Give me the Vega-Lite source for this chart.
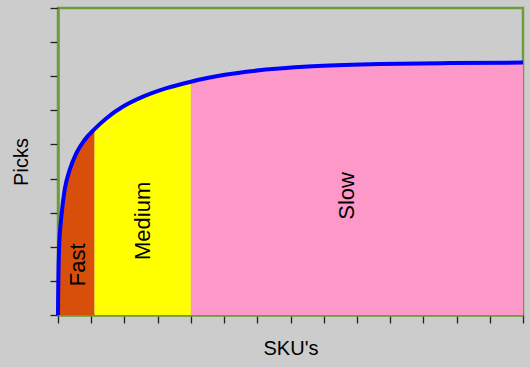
{
  "$schema": "https://vega.github.io/schema/vega-lite/v6.json",
  "width": 465,
  "height": 307,
  "autosize": {"type": "none"},
  "padding": {"left": 58, "top": 8, "right": 7, "bottom": 52},
  "background": "#cccccc",
  "config": {
    "view": {"stroke": "#6e9b3b", "strokeWidth": 2.5, "fill": "#cccccc"},
    "font": "Liberation Sans",
    "axis": {
      "grid": false,
      "labels": false,
      "domain": true,
      "domainColor": "#6e9b3b",
      "domainWidth": 2.5,
      "tickColor": "#222222",
      "tickSize": 8,
      "tickWidth": 1.3,
      "titleFont": "Liberation Sans",
      "titleFontWeight": "normal",
      "titleFontSize": 20,
      "titleColor": "#000000",
      "zindex": 1
    }
  },
  "datasets": {
    "zones": [
      {"sku": 0, "picks": 0, "zone": "Fast"},
      {"sku": 0.005, "picks": 0.6, "zone": "Fast"},
      {"sku": 0.015, "picks": 1.3, "zone": "Fast"},
      {"sku": 0.03, "picks": 1.9, "zone": "Fast"},
      {"sku": 0.06, "picks": 2.45, "zone": "Fast"},
      {"sku": 0.1, "picks": 2.88, "zone": "Fast"},
      {"sku": 0.2, "picks": 3.67, "zone": "Fast"},
      {"sku": 0.35, "picks": 4.25, "zone": "Fast"},
      {"sku": 0.55, "picks": 4.74, "zone": "Fast"},
      {"sku": 0.8, "picks": 5.13, "zone": "Fast"},
      {"sku": 1.1, "picks": 5.45, "zone": "Fast"},
      {"sku": 1.1, "picks": 5.45, "zone": "Medium"},
      {"sku": 1.46, "picks": 5.77, "zone": "Medium"},
      {"sku": 1.96, "picks": 6.11, "zone": "Medium"},
      {"sku": 2.56, "picks": 6.4, "zone": "Medium"},
      {"sku": 3.27, "picks": 6.65, "zone": "Medium"},
      {"sku": 4.0, "picks": 6.84, "zone": "Medium"},
      {"sku": 4.0, "picks": 6.84, "zone": "Slow"},
      {"sku": 4.57, "picks": 6.96, "zone": "Slow"},
      {"sku": 5.67, "picks": 7.13, "zone": "Slow"},
      {"sku": 7.67, "picks": 7.29, "zone": "Slow"},
      {"sku": 9.69, "picks": 7.355, "zone": "Slow"},
      {"sku": 11.8, "picks": 7.385, "zone": "Slow"},
      {"sku": 14, "picks": 7.4, "zone": "Slow"}
    ],
    "curve": [
      {"sku": 0, "picks": 0},
      {"sku": 0.005, "picks": 0.6},
      {"sku": 0.015, "picks": 1.3},
      {"sku": 0.03, "picks": 1.9},
      {"sku": 0.06, "picks": 2.45},
      {"sku": 0.1, "picks": 2.88},
      {"sku": 0.2, "picks": 3.67},
      {"sku": 0.35, "picks": 4.25},
      {"sku": 0.55, "picks": 4.74},
      {"sku": 0.8, "picks": 5.13},
      {"sku": 1.1, "picks": 5.45},
      {"sku": 1.46, "picks": 5.77},
      {"sku": 1.96, "picks": 6.11},
      {"sku": 2.56, "picks": 6.4},
      {"sku": 3.27, "picks": 6.65},
      {"sku": 4.0, "picks": 6.84},
      {"sku": 4.57, "picks": 6.96},
      {"sku": 5.67, "picks": 7.13},
      {"sku": 7.67, "picks": 7.29},
      {"sku": 9.69, "picks": 7.355},
      {"sku": 11.8, "picks": 7.385},
      {"sku": 14, "picks": 7.4}
    ],
    "labels": [
      {"sku": 0.6, "picks": 1.47, "label": "Fast"},
      {"sku": 2.57, "picks": 2.76, "label": "Medium"},
      {"sku": 8.7, "picks": 3.49, "label": "Slow"}
    ]
  },
  "encoding": {
    "x": {"field": "sku", "type": "quantitative", "scale": {"domain": [0, 14], "nice": false},
          "axis": {"values": [0,1,2,3,4,5,6,7,8,9,10,11,12,13,14], "title": "SKU's", "titlePadding": 15}},
    "y": {"field": "picks", "type": "quantitative", "scale": {"domain": [0, 9], "nice": false},
          "axis": {"values": [0,1,2,3,4,5,6,7,8,9], "title": "Picks", "titlePadding": 18}}
  },
  "layer": [
    {
      "data": {"name": "zones"},
      "mark": {"type": "area", "interpolate": "monotone"},
      "encoding": {
        "y": {"field": "picks", "type": "quantitative", "stack": null},
        "color": {"field": "zone", "type": "nominal",
                  "scale": {"domain": ["Fast", "Medium", "Slow"], "range": ["#d84e0b", "#ffff00", "#fd99c9"]},
                  "legend": null}
      }
    },
    {
      "data": {"name": "curve"},
      "mark": {"type": "line", "interpolate": "monotone", "color": "#0000ff", "strokeWidth": 4}
    },
    {
      "data": {"name": "labels"},
      "mark": {"type": "text", "angle": 270, "fontSize": 22, "font": "Liberation Sans", "color": "#000000", "align": "center", "baseline": "middle"},
      "encoding": {
        "text": {"field": "label"}
      }
    }
  ]
}
